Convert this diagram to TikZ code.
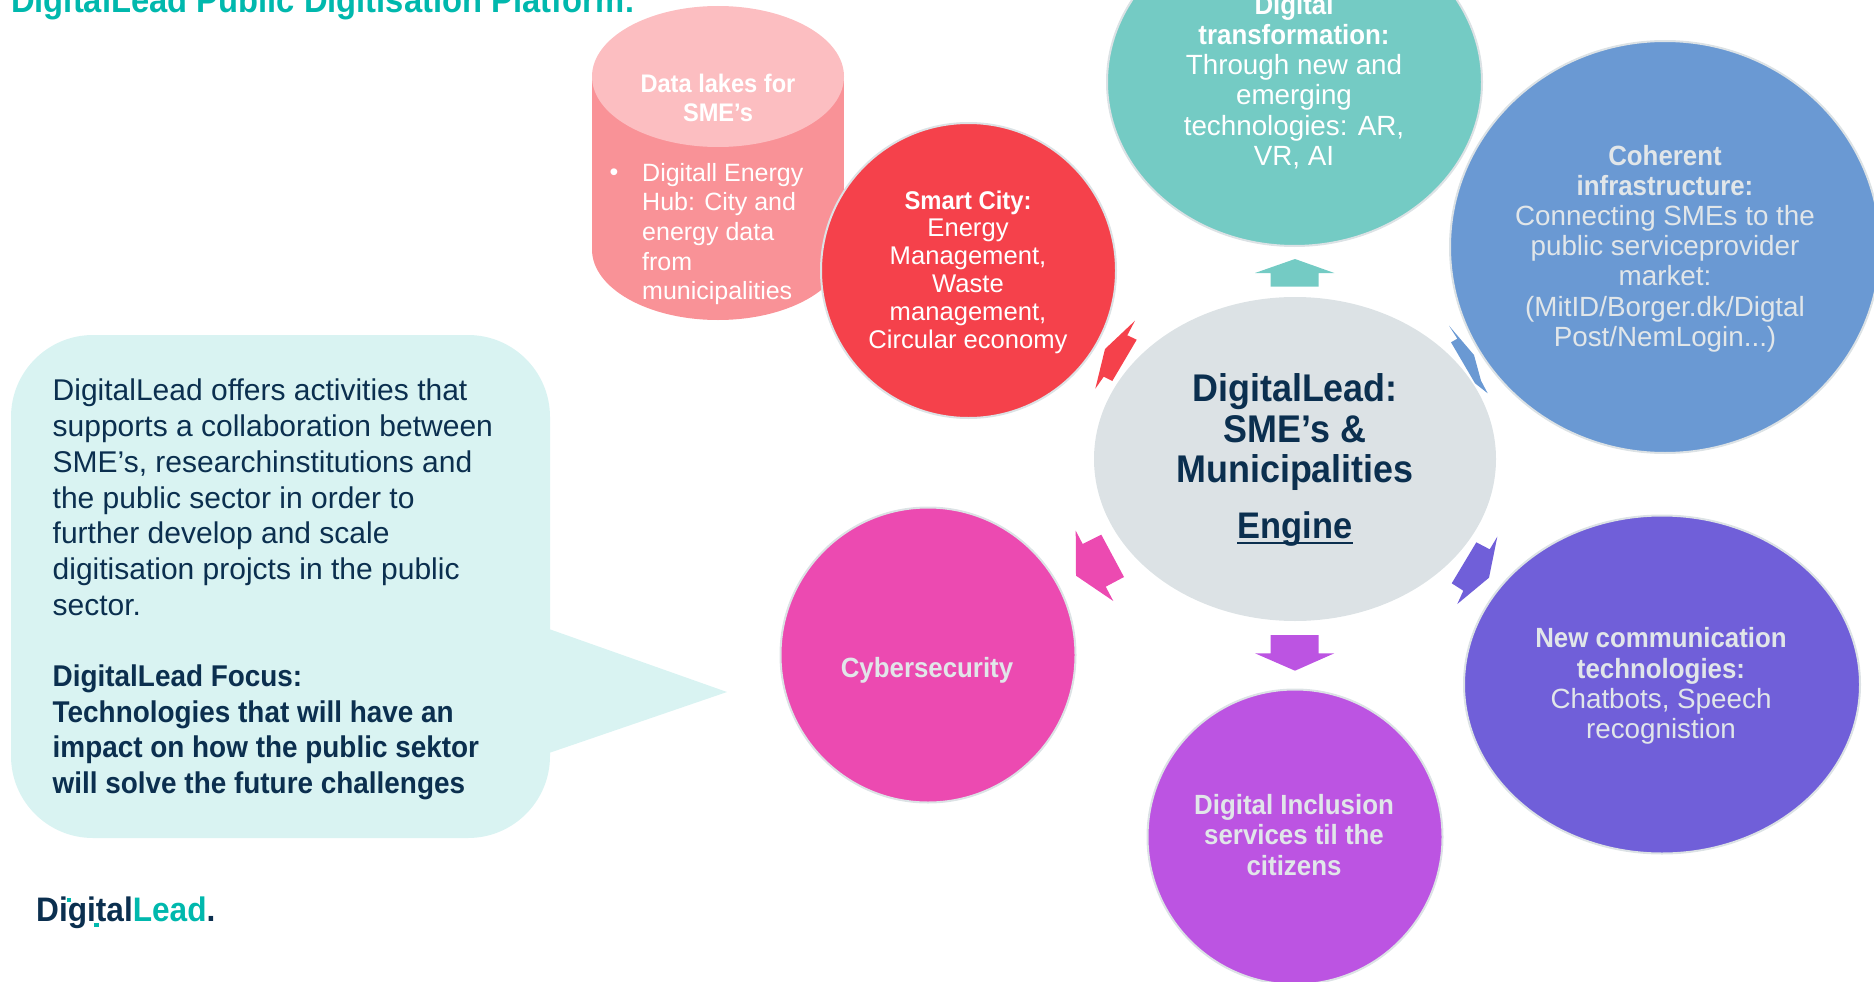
\documentclass[tikz,border=0pt]{standalone}
\usepackage{fontspec}
\setmainfont{Liberation Sans}[BoldFeatures={FakeStretch=0.93}]
\usetikzlibrary{shapes.geometric}
\definecolor{navy}{HTML}{0B2F4F}
\definecolor{tealT}{HTML}{00B8AD}
\definecolor{teal2}{HTML}{74CBC4}
\definecolor{blue2}{HTML}{6A99D3}
\definecolor{core}{HTML}{DCE2E5}
\definecolor{red2}{HTML}{F5414B}
\definecolor{pink2}{HTML}{EC4AB1}
\definecolor{violet2}{HTML}{BC54E2}
\definecolor{purple2}{HTML}{705FD9}
\definecolor{cylbody}{HTML}{F99297}
\definecolor{cyltop}{HTML}{FCBEC1}
\definecolor{callout}{HTML}{D9F3F2}
\definecolor{pale}{HTML}{E1E6E9}
\tikzset{
  bubble/.style={ellipse,draw=core,line width=2pt,inner sep=0pt},
  plain/.style={ellipse,inner sep=0pt},
  btext/.style={align=center,inner sep=0pt,text=#1,font=\fontsize{27.8}{30.2}\selectfont},
  stext/.style={align=center,inner sep=0pt,text=white,font=\fontsize{25.6}{27.8}\selectfont},
  ctext/.style={align=left,inner sep=0pt,text=navy,font=\fontsize{30}{35.7}\selectfont},
  hub/.style={anchor=base,inner sep=0pt,text=navy,font=\fontsize{38.6}{41}\selectfont\bfseries},
}
\begin{document}
\begin{tikzpicture}[x=1pt,y=-1pt]
\useasboundingbox (0,0) rectangle (1874,982);
\clip (0,0) rectangle (1874,982);
% title
\node[anchor=base west,inner sep=0pt,text=tealT,font=\fontsize{35.2}{38}\selectfont\bfseries] (title) at (11,13) {DigitalLead Public Digitisation Platform:};
% cylinder
\fill[cylbody] (592,76.5) rectangle (844,249.5);
\node[plain,fill=cylbody,minimum width=252pt,minimum height=141pt] (cylbase) at (718,249.5) {};
\node[plain,fill=cyltop,minimum width=252pt,minimum height=141pt] (cyltopn) at (718,76.5) {};
\node[btext=white,font=\fontsize{25.4}{28.7}\selectfont] (dl) at (718,98) {\textbf{Data lakes for}\\\textbf{SME’s}};
\node[inner sep=0pt,text=white,font=\fontsize{25}{29.7}\selectfont,align=left,anchor=west] (dlb) at (642,234) {Digitall Energy\\Hub: City and\\energy data\\from\\municipalities};
\node[inner sep=0pt,text=white,font=\fontsize{25}{25}\selectfont] (dot) at (614,175) {•};
% bubbles
\node[bubble,fill=teal2,minimum width=375pt,minimum height=328pt] (dt) at (1294.5,82) {};
\node[bubble,fill=blue2,minimum width=430pt,minimum height=412pt] (ci) at (1665,247) {};
\node[bubble,fill=red2,minimum width=295pt,minimum height=295pt] (sc) at (968.5,270.5) {};
\node[bubble,fill=pink2,minimum width=295pt,minimum height=295pt] (cs) at (928,655) {};
\node[bubble,fill=violet2,minimum width=295pt,minimum height=295pt] (di) at (1295,837) {};
\node[bubble,fill=purple2,minimum width=396pt,minimum height=338pt] (nc) at (1662,684.5) {};
\node[plain,fill=core,minimum width=402pt,minimum height=324pt] (hubn) at (1295,459) {};
% block arrows
\fill[teal2] (1295,259)--(1334.3,273)--(1318.7,273)--(1318.7,286.7)--(1270.7,286.7)--(1270.7,273)--(1255,273)--cycle;
\fill[violet2] (1295,670.7)--(1334.3,653.3)--(1318.7,653.3)--(1318.7,635)--(1270.7,635)--(1270.7,653.3)--(1255,653.3)--cycle;
\fill[red2] (1135,320.7)--(1127.3,335.3)--(1136.7,339.7)--(1112.3,381)--(1103.7,376.7)--(1095.3,388.7)--(1105,349)--cycle;
\fill[blue2] (1449,325.7)--(1474,355)--(1481,380.7)--(1487.7,393.3)--(1475,383.3)--(1451,342.3)--(1457.3,338.7)--cycle;
\fill[pink2] (1075.7,530.7)--(1082.7,544)--(1101.3,534.7)--(1124,577)--(1105.7,586.7)--(1113.3,601)--(1076,575.7)--cycle;
\fill[purple2] (1497.3,536.7)--(1489,577.7)--(1457.3,604)--(1463.3,590.7)--(1451.7,583.3)--(1476.3,542.3)--(1489.7,549.3)--cycle;
% callout
\fill[callout,rounded corners=82pt] (11,335) rectangle (550,838);
\fill[callout] (549,629)--(727,692)--(549,753)--cycle;
\node[ctext,anchor=north west] (ct) at (52.5,379) {DigitalLead offers activities that\\supports a collaboration between\\SME’s, researchinstitutions and\\the public sector in order to\\further develop and scale\\digitisation projcts in the public\\sector.\\[35.7pt]\textbf{DigitalLead Focus:}\\\textbf{Technologies that will have an}\\\textbf{impact on how the public sektor}\\\textbf{will solve the future challenges}};
% bubble text
\node[btext=white] (dtt) at (1294,81.5) {\textbf{Digital}\\\textbf{transformation:}\\Through new and\\emerging\\technologies: AR,\\VR, AI};
\node[btext=pale] (cit) at (1665,248.5) {\textbf{Coherent}\\\textbf{infrastructure:}\\Connecting SMEs to the\\public serviceprovider\\market:\\(MitID/Borger.dk/Digtal\\Post/NemLogin...)};
\node[stext] (sct) at (968,272) {\textbf{Smart City:}\\Energy\\Management,\\Waste\\management,\\Circular economy};
\node[btext=pale] (cst) at (927,670) {\textbf{Cybersecurity}};
\node[btext=pale] (dit) at (1294,835) {\textbf{Digital Inclusion}\\\textbf{services til the}\\\textbf{citizens}};
\node[btext=pale] (nct) at (1661,686) {\textbf{New communication}\\\textbf{technologies:}\\Chatbots, Speech\\recognistion};
% hub text
\node[hub] (h1) at (1295,401) {DigitalLead:};
\node[hub] (h2) at (1295,442) {SME’s \&};
\node[hub] (h3) at (1295,482.5) {Municipalities};
\node[hub,font=\fontsize{37}{41}\selectfont\bfseries] (h4) at (1295,538) {Engine};
\draw[navy,line width=2.4pt] (h4.south west |- 0,543) -- (h4.south east |- 0,543);
% logo
\node[anchor=base west,inner sep=0pt,font=\fontsize{34}{36}\selectfont\bfseries] (logo) at (36,921) {\textcolor{navy}{Digital}\textcolor{tealT}{Lead}\textcolor{navy}{.}};
\fill[tealT] (66.5,897.5) rectangle (71,902);
\fill[tealT] (94,922.5) rectangle (99,927);
\end{tikzpicture}
\end{document}
